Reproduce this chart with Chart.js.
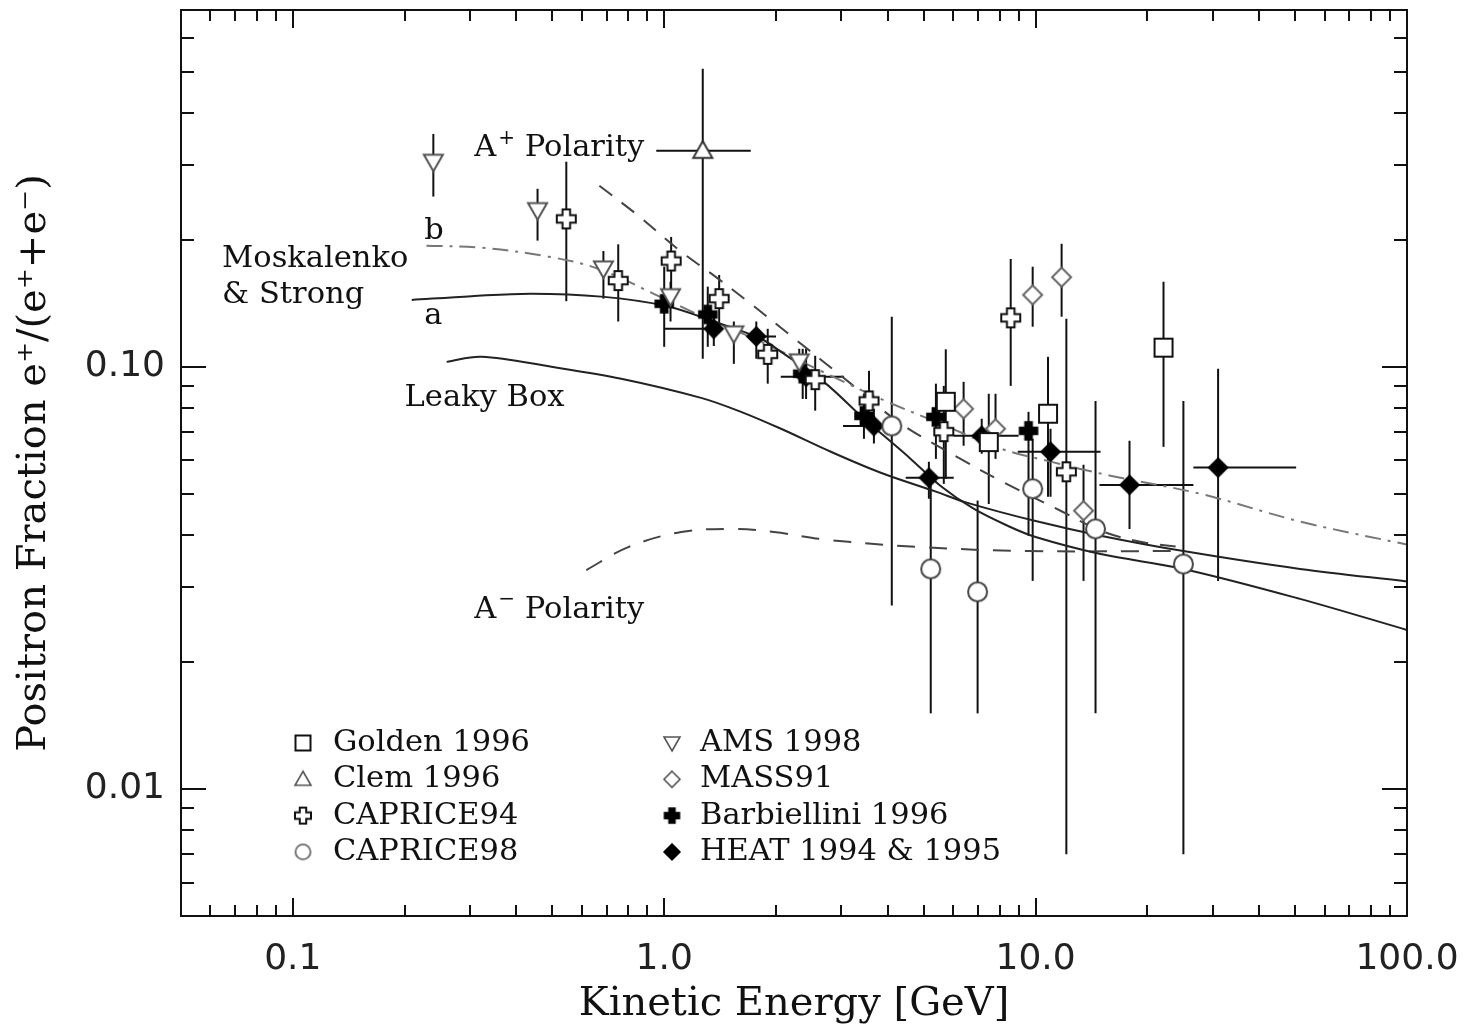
<!DOCTYPE html>
<html>
<head>
<meta charset="utf-8">
<script src="https://cdn.jsdelivr.net/npm/chart.js@4.4.1/dist/chart.umd.min.js"></script>
<style>
  html, body { margin: 0; padding: 0; background: #fff; }
  #wrap { width: 1471px; height: 1031px; }
</style>
</head>
<body>
<div id="wrap"><canvas id="chart" width="1471" height="1031"></canvas></div>
<script>
// ---- values: kinetic energy [GeV] vs positron fraction ----

// Golden 1996
const goldenE   = [5.73, 7.48, 10.8, 22.1];
const goldenF   = [0.0826, 0.0663, 0.0774, 0.111];
const goldenFlo = [0.0543, 0.0473, 0.0492, 0.0646];
const goldenFhi = [0.110, 0.0863, 0.1056, 0.159];

// Clem 1996
const clemE   = [1.27];
const clemF   = [0.325];
const clemFlo = [0.1045];
const clemFhi = [0.508];
const clemElo = [0.952];
const clemEhi = [1.71];

// CAPRICE94
const cap94E   = [0.545, 0.752, 1.044, 1.406, 1.90, 2.55, 3.56, 5.66, 8.57, 12.1];
const cap94F   = [0.224, 0.160, 0.178, 0.145, 0.107, 0.0932, 0.0830, 0.0702, 0.1306, 0.0564];
const cap94Flo = [0.143, 0.128, 0.153, 0.1244, 0.0912, 0.0787, 0.0713, 0.0528, 0.0901, 0.0070];
const cap94Fhi = [0.306, 0.195, 0.203, 0.165, 0.123, 0.1062, 0.0978, 0.0901, 0.180, 0.130];

// CAPRICE98
const cap98E   = [4.10, 5.22, 6.98, 9.82, 14.5, 25.0];
const cap98F   = [0.0724, 0.0332, 0.0293, 0.0514, 0.0413, 0.0341];
const cap98Flo = [0.0272, 0.0151, 0.0151, 0.0311, 0.0151, 0.0070];
const cap98Fhi = [0.1314, 0.0543, 0.0482, 0.0675, 0.0830, 0.0830];

// AMS 1998
const amsE   = [0.239, 0.456, 0.686, 1.04, 1.54, 2.31];
const amsF   = [0.306, 0.235, 0.171, 0.147, 0.120, 0.103];
const amsFlo = [0.253, 0.199, 0.145, 0.128, 0.1016, 0.0937];
const amsFhi = [0.356, 0.264, 0.188, 0.159, 0.128, 0.1103];

// MASS91
const massE   = [6.40, 7.80, 9.82, 11.75, 13.46];
const massF   = [0.0795, 0.0713, 0.148, 0.163, 0.0456];
const massFlo = [0.0650, 0.0605, 0.1244, 0.1314, 0.0311];
const massFhi = [0.0921, 0.0863, 0.1726, 0.1956, 0.0586];

// Barbiellini 1996
const barbE   = [1.00, 1.31, 2.36, 3.45, 5.39, 9.57];
const barbF   = [0.141, 0.133, 0.0963, 0.0765, 0.0761, 0.0705];
const barbFlo = [0.1115, 0.1115, 0.0839, 0.0675, 0.0605, 0.0398];
const barbFhi = [0.1726, 0.1548, 0.1103, 0.0863, 0.0912, 0.0782];

// HEAT 1994 & 1995
const heatE   = [1.36, 1.77, 2.41, 3.67, 5.16, 7.16, 10.97, 17.9, 31.0];
const heatF   = [0.123, 0.118, 0.0947, 0.0724, 0.0546, 0.0686, 0.0629, 0.0525, 0.0577];
const heatFlo = [0.112, 0.1045, 0.0839, 0.0658, 0.0487, 0.0622, 0.0492, 0.0413, 0.0311];
const heatFhi = [0.135, 0.128, 0.1103, 0.0795, 0.0596, 0.0753, 0.0713, 0.0668, 0.0989];
const heatElo = [1.00, 1.77, 2.06, 3.03, 4.47, 6.02, 8.95, 14.86, 26.6];
const heatEhi = [1.36, 2.00, 3.05, 3.67, 6.02, 9.00, 14.96, 26.6, 50.3];

// model curves
const mosAE = [0.209, 0.303, 0.439, 0.677, 1.0, 1.362, 1.823, 2.063, 2.69, 3.45, 4.08, 4.61, 5.55, 6.81, 8.41, 10.0, 14.96, 25.0, 51.5, 100];
const mosAF = [0.144, 0.147, 0.149, 0.1466, 0.1396, 0.128, 0.1165, 0.1085, 0.0921, 0.0753, 0.0664, 0.0605, 0.0522, 0.0461, 0.0420, 0.0395, 0.0360, 0.0332, 0.0282, 0.0238];

const mosBE = [0.229, 0.322, 0.488, 0.665, 1.0, 1.257, 1.823, 2.64, 3.83, 5.55, 8.05, 10.97, 15.9, 27.8, 51.5, 100];
const mosBF = [0.1936, 0.1914, 0.1823, 0.1706, 0.1449, 0.132, 0.1146, 0.0978, 0.0839, 0.0733, 0.064, 0.0596, 0.0552, 0.050, 0.0430, 0.0379];

const leakyE = [0.2595, 0.322, 0.497, 0.766, 1.257, 1.61, 2.063, 2.81, 3.83, 5.39, 6.56, 10.0, 14.96, 25.0, 51.5, 100];
const leakyF = [0.1027, 0.1056, 0.100, 0.0937, 0.0844, 0.0782, 0.0713, 0.0629, 0.0561, 0.0506, 0.0476, 0.0431, 0.0398, 0.0366, 0.0332, 0.0310];

const aPlusE = [0.669, 0.851, 1.111, 1.362, 1.683, 2.195, 3.18, 4.34, 6.28, 8.05, 11.67, 14.96, 19.15, 24.5];
const aPlusF = [0.2685, 0.228, 0.1873, 0.1644, 0.1426, 0.1184, 0.0912, 0.0733, 0.0605, 0.0537, 0.0456, 0.0409, 0.0385, 0.0374];

const aMinusE = [0.617, 0.800, 1.111, 1.542, 1.975, 2.76, 4.91, 9.52, 24.5];
const aMinusF = [0.0330, 0.0374, 0.0406, 0.0413, 0.0406, 0.0389, 0.0374, 0.0366, 0.0366];

// axis ticks
const xTicks = [0.1, 1, 10, 100];
const xTickLabels = ['0.1', '1.0', '10.0', '100.0'];
const yTicks = [0.01, 0.1];
const yTickLabels = ['0.01', '0.10'];

// ---- helpers ----
function points(E, F, lo, hi, elo, ehi) {
  return E.map((e, i) => ({
    x: e, y: F[i],
    yMin: lo ? lo[i] : null, yMax: hi ? hi[i] : null,
    xMin: elo ? elo[i] : null, xMax: ehi ? ehi[i] : null
  }));
}
function curve(E, F) {
  return E.map((e, i) => ({ x: e, y: F[i] }));
}

function marker(shape, size, stroke, fill, lw) {
  const pad = 3;
  const cv = document.createElement('canvas');
  cv.width = cv.height = Math.ceil(size + pad * 2);
  const g = cv.getContext('2d');
  const c = cv.width / 2, h = size / 2;
  g.lineWidth = lw;
  g.strokeStyle = stroke;
  g.fillStyle = fill;
  g.beginPath();
  if (shape === 'square') {
    g.rect(c - h, c - h, size, size);
  } else if (shape === 'circle') {
    g.arc(c, c, h, 0, Math.PI * 2);
  } else if (shape === 'triUp') {
    g.moveTo(c, c - h); g.lineTo(c + h, c + h * 0.75); g.lineTo(c - h, c + h * 0.75); g.closePath();
  } else if (shape === 'triDown') {
    g.moveTo(c, c + h); g.lineTo(c + h, c - h * 0.75); g.lineTo(c - h, c - h * 0.75); g.closePath();
  } else if (shape === 'diamond') {
    g.moveTo(c, c - h); g.lineTo(c + h, c); g.lineTo(c, c + h); g.lineTo(c - h, c); g.closePath();
  } else if (shape === 'plus') {
    const w = size * 0.2;
    g.moveTo(c - w, c - h); g.lineTo(c + w, c - h); g.lineTo(c + w, c - w); g.lineTo(c + h, c - w);
    g.lineTo(c + h, c + w); g.lineTo(c + w, c + w); g.lineTo(c + w, c + h); g.lineTo(c - w, c + h);
    g.lineTo(c - w, c + w); g.lineTo(c - h, c + w); g.lineTo(c - h, c - w); g.lineTo(c - w, c - w);
    g.closePath();
  }
  g.fill();
  g.stroke();
  return cv;
}

const sym = {
  golden: [marker('square', 18, '#111', '#fff', 2), marker('square', 15, '#111', '#fff', 2)],
  clem:   [marker('triUp', 19, '#333', '#fff', 2), marker('triUp', 16, '#555', '#fff', 1.6)],
  cap94:  [marker('plus', 19, '#111', '#fff', 2), marker('plus', 16, '#111', '#fff', 2)],
  cap98:  [marker('circle', 19, '#444', '#fff', 2), marker('circle', 15, '#555', '#fff', 1.6)],
  ams:    [marker('triDown', 19, '#555', '#fff', 2), marker('triDown', 16, '#555', '#fff', 1.6)],
  mass:   [marker('diamond', 19, '#666', '#fff', 2), marker('diamond', 16, '#555', '#fff', 1.6)],
  barb:   [marker('plus', 18, '#000', '#000', 1.5), marker('plus', 15, '#000', '#000', 1.5)],
  heat:   [marker('diamond', 19, '#000', '#000', 1.5), marker('diamond', 16, '#000', '#000', 1.5)]
};

function pointSet(label, key, data) {
  return { label, data, pointStyle: sym[key][0], pointRadius: 9, pointHoverRadius: 9, showLine: false, errorBars: true };
}
function lineSet(label, data, color, dash) {
  return { label, data, showLine: true, pointRadius: 0, borderColor: color, borderWidth: 2, borderDash: dash, tension: 0.35, fill: false };
}

// ---- plugins ----
const errorBars = {
  id: 'errorBars',
  beforeDatasetsDraw(chart) {
    const { ctx, scales: { x, y } } = chart;
    ctx.save();
    ctx.strokeStyle = '#111';
    ctx.lineWidth = 2;
    chart.data.datasets.forEach(ds => {
      if (!ds.errorBars) return;
      ds.data.forEach(p => {
        const px = x.getPixelForValue(p.x), py = y.getPixelForValue(p.y);
        ctx.beginPath();
        if (p.yMin != null) {
          ctx.moveTo(px, y.getPixelForValue(p.yMax));
          ctx.lineTo(px, y.getPixelForValue(p.yMin));
        }
        if (p.xMin != null) {
          ctx.moveTo(x.getPixelForValue(p.xMin), py);
          ctx.lineTo(x.getPixelForValue(p.xMax), py);
        }
        ctx.stroke();
      });
    });
    ctx.restore();
  }
};

const frame = {
  id: 'frame',
  afterDatasetsDraw(chart) {
    const { ctx, chartArea: a, scales: { x, y } } = chart;
    ctx.save();
    ctx.strokeStyle = '#111';
    ctx.lineWidth = 2;
    ctx.strokeRect(a.left, a.top, a.right - a.left, a.bottom - a.top);
    ctx.beginPath();
    for (let d = -3; d <= 2; d++) {
      for (let m = 1; m <= 9; m++) {
        const v = m * Math.pow(10, d);
        if (v > x.min * 1.0001 && v < x.max * 0.9999) {
          const px = Math.round(x.getPixelForValue(v));
          const len = m === 1 ? 18 : 11;
          ctx.moveTo(px, a.bottom); ctx.lineTo(px, a.bottom - len);
          ctx.moveTo(px, a.top); ctx.lineTo(px, a.top + len);
        }
        if (v > y.min * 1.0001 && v < y.max * 0.9999) {
          const py = Math.round(y.getPixelForValue(v));
          const len = m === 1 ? 25 : 13;
          ctx.moveTo(a.left, py); ctx.lineTo(a.left + len, py);
          ctx.moveTo(a.right, py); ctx.lineTo(a.right - len, py);
        }
      }
    }
    ctx.stroke();
    ctx.restore();
  }
};

// text labels inside the plot, anchored in data units
const notes = [
  { text: 'A', sup: '+', rest: ' Polarity', e: 0.308, f: 0.329 },
  { text: 'A', sup: '\u2212', rest: ' Polarity', e: 0.308, f: 0.0265 },
  { text: 'Moskalenko', e: 0.0645, f: 0.180 },
  { text: '& Strong', e: 0.0645, f: 0.148 },
  { text: 'b', e: 0.226, f: 0.210 },
  { text: 'a', e: 0.226, f: 0.132 },
  { text: 'Leaky Box', e: 0.200, f: 0.0845 }
];

const legendRows = [
  ['golden', 'Golden 1996'], ['clem', 'Clem 1996'], ['cap94', 'CAPRICE94'], ['cap98', 'CAPRICE98'],
  ['ams', 'AMS 1998'], ['mass', 'MASS91'], ['barb', 'Barbiellini 1996'], ['heat', 'HEAT 1994 & 1995']
];

const labels = {
  id: 'labels',
  afterDraw(chart) {
    const { ctx, chartArea: a, scales: { x, y } } = chart;
    ctx.save();
    ctx.fillStyle = '#111';
    ctx.textBaseline = 'middle';
    ctx.textAlign = 'left';
    const font = '30.5px "DejaVu Serif"';
    notes.forEach(n => {
      let px = x.getPixelForValue(n.e);
      const py = y.getPixelForValue(n.f);
      ctx.font = font;
      ctx.fillText(n.text, px, py);
      if (n.sup) {
        px += ctx.measureText(n.text).width + 2;
        ctx.font = '20px "DejaVu Serif"';
        ctx.fillText(n.sup, px, py - 10);
        px += ctx.measureText(n.sup).width;
        ctx.font = font;
        ctx.fillText(n.rest, px, py);
      }
    });

    // legend, two columns in the lower left of the plot
    ctx.font = font;
    legendRows.forEach(([key, text], i) => {
      const col = Math.floor(i / 4), row = i % 4;
      const mx = a.left + (col ? 491 : 122);
      const tx = a.left + (col ? 519 : 152);
      const my = a.top + 733 + row * 36.3;
      const img = sym[key][1];
      ctx.drawImage(img, mx - img.width / 2, my - img.height / 2);
      ctx.fillText(text, tx, my);
    });
    ctx.restore();
  }
};

// ---- chart ----
Chart.defaults.color = '#111';

new Chart(document.getElementById('chart'), {
  type: 'scatter',
  data: {
    datasets: [
      pointSet('Golden 1996', 'golden', points(goldenE, goldenF, goldenFlo, goldenFhi)),
      pointSet('Clem 1996', 'clem', points(clemE, clemF, clemFlo, clemFhi, clemElo, clemEhi)),
      pointSet('CAPRICE94', 'cap94', points(cap94E, cap94F, cap94Flo, cap94Fhi)),
      pointSet('CAPRICE98', 'cap98', points(cap98E, cap98F, cap98Flo, cap98Fhi)),
      pointSet('AMS 1998', 'ams', points(amsE, amsF, amsFlo, amsFhi)),
      pointSet('MASS91', 'mass', points(massE, massF, massFlo, massFhi)),
      pointSet('Barbiellini 1996', 'barb', points(barbE, barbF, barbFlo, barbFhi)),
      pointSet('HEAT 1994 & 1995', 'heat', points(heatE, heatF, heatFlo, heatFhi, heatElo, heatEhi)),
      lineSet('Moskalenko & Strong a', curve(mosAE, mosAF), '#222', []),
      lineSet('Moskalenko & Strong b', curve(mosBE, mosBF), '#777', [16, 7, 3, 7]),
      lineSet('Leaky Box', curve(leakyE, leakyF), '#222', []),
      lineSet('A+ Polarity', curve(aPlusE, aPlusF), '#444', [16, 12]),
      lineSet('A- Polarity', curve(aMinusE, aMinusF), '#444', [18, 14])
    ]
  },
  options: {
    responsive: false,
    animation: false,
    devicePixelRatio: 1,
    layout: { padding: { top: 10, right: 64, left: 0, bottom: 0 } },
    plugins: { legend: { display: false }, tooltip: { enabled: false } },
    scales: {
      x: {
        type: 'logarithmic',
        position: 'bottom',
        min: 0.05,
        max: 100,
        bounds: 'data',
        grid: { display: false, drawTicks: false },
        border: { display: false },
        afterBuildTicks: s => { s.ticks = xTicks.map(v => ({ value: v })); },
        afterFit: s => { s.height = 115; s.paddingLeft = 0; s.paddingRight = 0; },
        ticks: {
          autoSkip: false,
          maxRotation: 0,
          padding: 22,
          font: { family: 'DejaVu Sans', size: 36 },
          color: '#222',
          callback: (v, i) => xTickLabels[i]
        },
        title: {
          display: true,
          text: 'Kinetic Energy [GeV]',
          font: { family: 'DejaVu Serif', size: 40 },
          color: '#111',
          padding: { top: 0, bottom: 2 }
        }
      },
      y: {
        type: 'logarithmic',
        position: 'left',
        min: 0.005,
        max: 0.7,
        bounds: 'data',
        grid: { display: false, drawTicks: false },
        border: { display: false },
        afterBuildTicks: s => { s.ticks = yTicks.map(v => ({ value: v })); },
        afterFit: s => { s.width = 181; s.paddingTop = 0; s.paddingBottom = 0; },
        ticks: {
          autoSkip: false,
          padding: 16,
          font: { family: 'DejaVu Sans', size: 36 },
          color: '#222',
          callback: (v, i) => yTickLabels[i]
        },
        title: {
          display: true,
          text: 'Positron Fraction e\u207A/(e\u207A+e\u207B)',
          font: { family: 'DejaVu Serif', size: 40 },
          color: '#111',
          padding: { top: 11, bottom: 0 }
        }
      }
    }
  },
  plugins: [errorBars, frame, labels]
});
</script>
</body>
</html>
